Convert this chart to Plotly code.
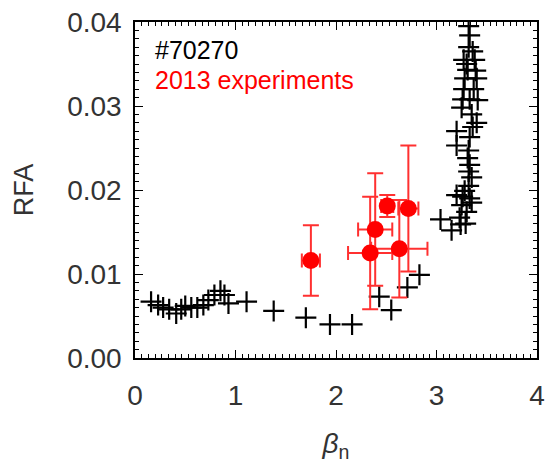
import plotly.graph_objects as go

# Black crosses: shot #70270 (beta_n, RFA)
shot_beta = [0.16, 0.23, 0.28, 0.34, 0.41, 0.46, 0.50, 0.56, 0.62, 0.68, 0.73, 0.79, 0.85, 0.89, 0.93,
             1.11, 1.38, 1.70, 1.94, 2.16, 2.43, 2.55, 2.71, 2.83, 3.04, 3.15, 3.24,
             3.32, 3.33, 3.32, 3.27, 3.38, 3.31, 3.39, 3.28, 3.40, 3.27, 3.37, 3.26, 3.33, 3.41,
             3.25, 3.35, 3.40, 3.20, 3.33, 3.20, 3.32, 3.31, 3.33, 3.32, 3.35, 3.32, 3.28, 3.20,
             3.26, 3.33, 3.25, 3.30, 3.23, 3.35, 3.29, 3.36, 3.30, 3.36]
shot_rfa = [0.0067, 0.0063, 0.0060, 0.0058, 0.0053, 0.0058, 0.0062, 0.0060, 0.0060, 0.0063, 0.0069, 0.0075, 0.0080, 0.0075, 0.0065,
            0.0067, 0.0056, 0.0048, 0.0040, 0.0040, 0.0073, 0.0057, 0.0084, 0.0099, 0.0165, 0.0152, 0.0159,
            0.0395, 0.0384, 0.0370, 0.0355, 0.0355, 0.0343, 0.0342, 0.0333, 0.0333, 0.0320, 0.0320, 0.0308, 0.0308, 0.0307,
            0.0298, 0.0290, 0.0280, 0.0270, 0.0263, 0.0253, 0.0247, 0.0238, 0.0230, 0.0222, 0.0215, 0.0205, 0.0199, 0.0194,
            0.0192, 0.0190, 0.0182, 0.0174, 0.0167, 0.0185, 0.0160, 0.0275, 0.0350, 0.0365]

# Red points: 2013 experiments
exp_beta = [1.75, 2.34, 2.39, 2.51, 2.63, 2.72]
exp_rfa = [0.0116, 0.0125, 0.0153, 0.0181, 0.0130, 0.0178]
exp_beta_err = [0.09, 0.22, 0.17, 0.06, 0.28, 0.10]
exp_rfa_err = [0.0042, 0.0067, 0.0067, 0.0013, 0.0058, 0.0075]

x_ticks = [0, 1, 2, 3, 4]
y_ticks = [0.00, 0.01, 0.02, 0.03, 0.04]
y_tick_labels = ["0.00", "0.01", "0.02", "0.03", "0.04"]

FONT = "Liberation Sans"

fig = go.Figure()
fig.add_trace(go.Scatter(
    x=shot_beta, y=shot_rfa, mode="markers",
    marker=dict(symbol="cross-thin", size=15, line=dict(width=2.2, color="black")),
    showlegend=False,
))
fig.add_trace(go.Scatter(
    x=exp_beta, y=exp_rfa, mode="markers",
    marker=dict(symbol="circle", size=17, color="#ff0000"),
    error_x=dict(type="data", array=exp_beta_err, color="#ff3030", thickness=2, width=7),
    error_y=dict(type="data", array=exp_rfa_err, color="#ff3030", thickness=2, width=8),
    showlegend=False,
))

fig.add_annotation(x=0.045, y=0.916, xref="paper", yref="paper", text="#70270",
                   showarrow=False, xanchor="left", yanchor="middle",
                   font=dict(family=FONT, size=25, color="black"))
fig.add_annotation(x=0.045, y=0.826, xref="paper", yref="paper", text="2013 experiments",
                   showarrow=False, xanchor="left", yanchor="middle",
                   font=dict(family=FONT, size=25, color="#ff0000"))

axis_common = dict(
    showline=True, linecolor="black", linewidth=1.5, mirror="allticks",
    ticks="inside", ticklen=8, tickwidth=1.2, tickcolor="black",
    showgrid=False, zeroline=False,
    tickfont=dict(family=FONT, size=28, color="#333333"),
)

fig.update_xaxes(
    range=[0, 4], tickvals=x_ticks, ticktext=[str(v) for v in x_ticks],
    minor=dict(dtick=1/15, ticks="inside", ticklen=4, tickcolor="black", tickwidth=1),
    ticklabelstandoff=12,
    title=dict(text="<i>β</i><sub>n</sub>", font=dict(family=FONT, size=28, color="#333333"), standoff=24),
    **axis_common,
)
fig.update_yaxes(
    range=[0, 0.04 + 1e-7], tickvals=y_ticks, ticktext=y_tick_labels,
    minor=dict(dtick=0.001, ticks="inside", ticklen=4, tickcolor="black", tickwidth=1),
    ticklabelstandoff=6, ticklabeloverflow="allow",
    title=dict(text="RFA", font=dict(family=FONT, size=27, color="#333333"), standoff=26),
    **axis_common,
)

fig.update_layout(
    width=552, height=463,
    margin=dict(l=135, r=7, t=11, b=105),
    plot_bgcolor="white", paper_bgcolor="white",
)

fig.write_html("out.html")
